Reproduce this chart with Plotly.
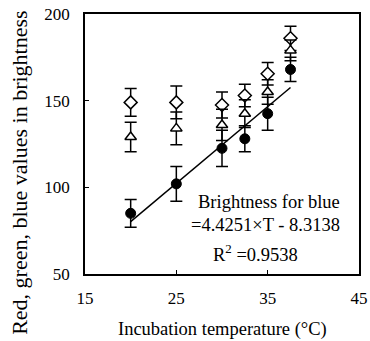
import plotly.graph_objects as go

# Data
temps = [20, 25, 30, 32.5, 35, 37.5]
red_vals = [149, 149, 147.5, 153, 165.5, 186]
red_err = [8, 9.5, 7.5, 6.5, 6.5, 7]
green_vals = [129, 134, 136, 142.5, 155, 179]
green_err = [8.5, 9.5, 9, 8, 7, 6]
blue_vals = [85, 102, 122.5, 128, 142.5, 168]
blue_err = [8, 10, 10.5, 7.5, 9.5, 7]

slope = 4.4251
intercept = -8.3138
r_squared = 0.9538
fit_range = [20, 37.5]

x_ticks = [15, 25, 35, 45]
y_ticks = [50, 100, 150, 200]
x_title = "Incubation temperature (\u00b0C)"
y_title = "Red, green, blue values in brightness"

FONT = "'Liberation Serif', 'Times New Roman', Times, serif"

fig = go.Figure()

def err(e):
    return dict(type="data", array=e, visible=True, color="black", thickness=1.5, width=6)

fit_y = [slope * t + intercept for t in fit_range]
fig.add_trace(go.Scatter(x=fit_range, y=fit_y, mode="lines",
                         line=dict(color="black", width=1.5), showlegend=False))

fig.add_trace(go.Scatter(x=temps, y=red_vals, mode="markers", error_y=err(red_err),
                         marker=dict(symbol="diamond", size=10, color="white",
                                     line=dict(color="black", width=1.5)),
                         name="Red", showlegend=False))
fig.add_trace(go.Scatter(x=temps, y=green_vals, mode="markers", error_y=err(green_err),
                         marker=dict(symbol="triangle-up", size=10, color="white",
                                     line=dict(color="black", width=1.5)),
                         name="Green", showlegend=False))
fig.add_trace(go.Scatter(x=temps, y=blue_vals, mode="markers", error_y=err(blue_err),
                         marker=dict(symbol="circle", size=10, color="black",
                                     line=dict(color="black", width=1)),
                         name="Blue", showlegend=False))

ann_lines = ["Brightness for blue",
             f"={slope}\u00d7T - {abs(intercept)}",
             f"R<sup>2</sup> ={r_squared}"]
ann_x = [35.1, 34.8, 33.7]
ann_y = [91.5, 78.3, 62.0]
for txt, xx, yy in zip(ann_lines, ann_x, ann_y):
    fig.add_annotation(x=xx, y=yy, text=txt, showarrow=False, xanchor="center",
                       yanchor="middle", font=dict(family=FONT, size=18.5, color="black"))

# axis titles placed as text in paper coordinates, as positioned in the reference
fig.add_annotation(xref="paper", yref="paper", x=-0.24, y=0.39, text=y_title,
                   textangle=-90, showarrow=False, xanchor="center", yanchor="middle",
                   font=dict(family=FONT, size=22, color="black"))
fig.add_annotation(xref="paper", yref="paper", x=0.5, y=-0.215, text=x_title,
                   showarrow=False, xanchor="center", yanchor="middle",
                   font=dict(family=FONT, size=18.5, color="black"))

axis_common = dict(showgrid=False, zeroline=False, showline=True, linecolor="black",
                   linewidth=1.5, mirror=True, ticks="inside", ticklen=4,
                   tickcolor="black", tickwidth=1, ticklabeloverflow="allow",
                   automargin=False,
                   tickfont=dict(family=FONT, size=17, color="black"))

fig.update_xaxes(range=[15, 45], tickvals=x_ticks, ticklabelstandoff=8, **axis_common)
fig.update_yaxes(range=[50, 200], tickvals=y_ticks, ticklabelstandoff=10, **axis_common)

fig.update_layout(width=370, height=341, margin=dict(l=85, r=11, t=14, b=67),
                  plot_bgcolor="white", paper_bgcolor="white")

fig.write_html("out.html", config={"displayModeBar": False},
               post_script="document.body.style.margin='0';document.body.style.overflow='hidden';")
